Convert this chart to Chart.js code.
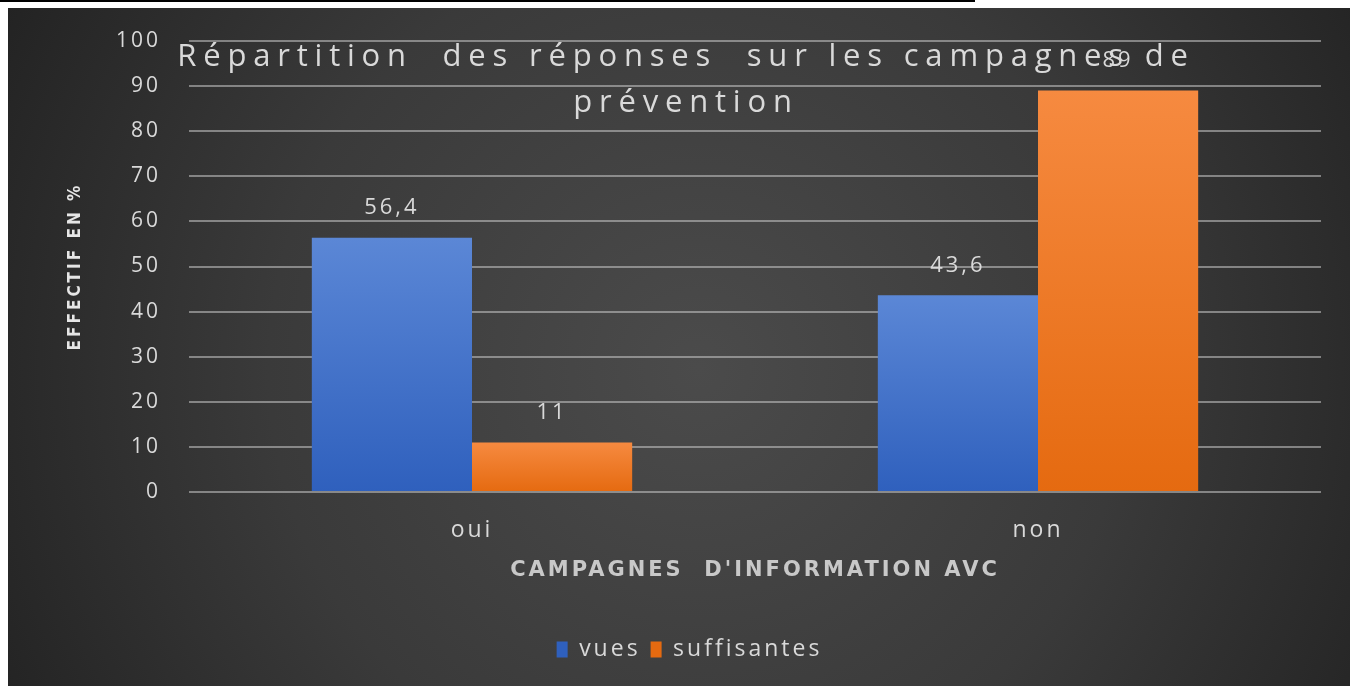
<!DOCTYPE html>
<html>
<head>
<meta charset="utf-8">
<script src="https://cdn.jsdelivr.net/npm/chart.js@4.4.1/dist/chart.umd.min.js"></script>
<style>
  body { margin: 0; background: #fff; width: 1350px; height: 686px; overflow: hidden; position: relative; }
  #topline { position: absolute; left: 0; top: 0; width: 975px; height: 2px; background: #000; }
  #wrap { position: absolute; left: 8px; top: 8px; width: 1342px; height: 678px; }
</style>
</head>
<body>
<div id="topline"></div>
<div id="wrap"><canvas id="myChart" width="1342" height="678"></canvas></div>
<script>
"use strict"

const categories = ["oui", "non"]
const vues = [56.4, 43.6]
const suffisantes = [11, 89]
const y_ticks = [0, 10, 20, 30, 40, 50, 60, 70, 80, 90, 100]
const title_lines = ["Répartition  des réponses  sur les campagnes de", "prévention"]

const text_color = "#d9d9d9"

// each bar gets its own top-to-bottom shading
function bar_gradient(c, top, bottom){
  const chart = c.chart
  const area = chart.chartArea
  if(!area || !chart.scales.y || c.raw === undefined) return top
  const y0 = chart.scales.y.getPixelForValue(c.raw)
  let g = chart.ctx.createLinearGradient(0, y0, 0, area.bottom)
  g.addColorStop(0, top)
  g.addColorStop(1, bottom)
  return g
}

// the original text is drawn wide, so space all letters a bit
const spacing = {
  id: "spacing",
  beforeUpdate(chart){ chart.ctx.letterSpacing = "3px" },
  beforeRender(chart){ chart.ctx.letterSpacing = "3px" }
}

// dark radial background of the panel
const background = {
  id: "background",
  beforeDraw(chart){
    const ctx = chart.ctx
    ctx.save()
    let g = ctx.createRadialGradient(690, 360, 0, 690, 360, 780)
    g.addColorStop(0, "#4b4b4b")
    g.addColorStop(0.55, "#3a3a3a")
    g.addColorStop(1, "#232323")
    ctx.fillStyle = g
    ctx.fillRect(0, 0, chart.width, chart.height)
    ctx.restore()
  }
}

// values above the bars
const value_labels = {
  id: "value_labels",
  afterDatasetsDraw(chart){
    const ctx = chart.ctx
    ctx.save()
    ctx.font = "22px 'Open Sans'"
    ctx.fillStyle = text_color
    ctx.textAlign = "center"
    ctx.textBaseline = "middle"
    chart.data.datasets.forEach((ds, i) => {
      chart.getDatasetMeta(i).data.forEach((bar, j) => {
        ctx.fillText(String(ds.data[j]).replace(".", ","), bar.x, bar.y - 30)
      })
    })
    ctx.restore()
  }
}

// title drawn over the plot, like the original
const overlay_title = {
  id: "overlay_title",
  afterDraw(chart){
    const ctx = chart.ctx
    ctx.save()
    ctx.font = "31px 'Open Sans'"
    ctx.letterSpacing = "6.8px"
    ctx.fillStyle = text_color
    ctx.textAlign = "center"
    ctx.textBaseline = "middle"
    ctx.fillText(title_lines[0], 678, 49)
    ctx.fillText(title_lines[1], 678, 95)
    ctx.restore()
  }
}

const ctx = document.getElementById("myChart")

let graph = new Chart(ctx, {
  type: "bar",
  data: {
    labels: categories,
    datasets: [
      {
        label: "vues",
        data: vues,
        backgroundColor: (c) => bar_gradient(c, "#5b87d6", "#2f60bd"),
        borderWidth: 0,
      },
      {
        label: "suffisantes",
        data: suffisantes,
        backgroundColor: (c) => bar_gradient(c, "#f68a40", "#e56a10"),
        borderWidth: 0,
      }
    ]
  },
  options: {
    responsive: false,
    animation: false,
    layout: {
      padding: { top: 33, right: 29, bottom: 15, left: 50 }
    },
    datasets: {
      bar: { categoryPercentage: 0.566, barPercentage: 1 }
    },
    scales: {
      x: {
        grid: { display: false, drawTicks: false },
        border: { display: false },
        ticks: { color: text_color, font: { family: "Open Sans", size: 23 }, padding: 25 },
        title: {
          display: true,
          text: "CAMPAGNES  D'INFORMATION AVC",
          color: "#c8c8c8",
          font: { family: "DejaVu Sans", size: 21, weight: "bold" },
          padding: { top: 0, bottom: 45 }
        },
        afterFit(scale){ scale.height = 136 }
      },
      y: {
        min: 0,
        max: 100,
        afterBuildTicks(scale){ scale.ticks = y_ticks.map(v => ({ value: v })) },
        grid: { color: "rgba(200,200,200,0.55)", lineWidth: 2, drawTicks: false },
        border: { display: false },
        ticks: { color: text_color, font: { family: "Open Sans", size: 21 }, padding: 28 },
        title: {
          display: true,
          text: "EFFECTIF EN %",
          color: "#e6e6e6",
          font: { family: "DejaVu Sans Condensed", size: 17, weight: "bold" },
          padding: { top: 7, bottom: 10 }
        },
        afterFit(scale){
          scale.width = 131
          // tick padding should not push the plot down
          scale.paddingTop = 12
          scale.paddingBottom = 12
        }
      }
    },
    plugins: {
      legend: {
        position: "bottom",
        labels: {
          color: text_color,
          font: { family: "Open Sans", size: 23 },
          boxWidth: 11,
          boxHeight: 16,
          padding: 10
        }
      },
      tooltip: { enabled: false }
    }
  },
  plugins: [spacing, background, value_labels, overlay_title]
})
</script>
</body>
</html>
